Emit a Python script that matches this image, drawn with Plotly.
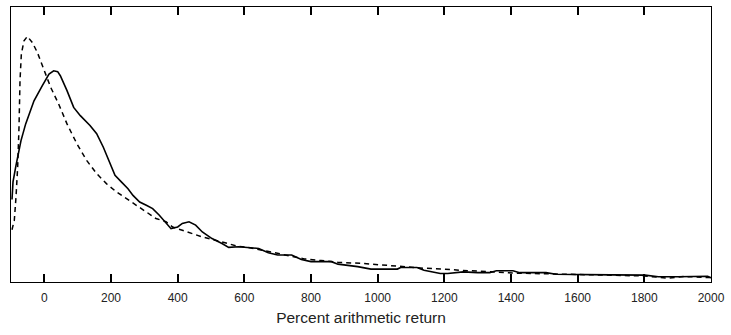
import plotly.graph_objects as go

# Solid curve (percent arithmetic return vs density, arbitrary units)
solid_x = [-97, -94, -85, -70, -56, -31, -6, 14, 28, 40, 48, 68, 88, 108, 137, 157, 177, 197, 212, 231,
           251, 266, 286, 306, 325, 345, 365, 380, 400, 414, 434, 454, 474, 503, 533, 553, 583, 613, 643,
           672, 700, 742, 771, 800, 861, 881, 940, 980, 1059, 1069, 1118, 1139, 1188, 1210, 1257, 1300,
           1336, 1356, 1406, 1426, 1505, 1535, 1604, 1700, 1802, 1842, 1900, 1960, 1990, 2000]
solid_y = [0.30, 0.364, 0.424, 0.514, 0.575, 0.659, 0.714, 0.756, 0.768, 0.765, 0.750, 0.696, 0.635, 0.605,
           0.569, 0.539, 0.490, 0.430, 0.388, 0.364, 0.339, 0.315, 0.291, 0.279, 0.267, 0.243, 0.213, 0.194,
           0.200, 0.213, 0.219, 0.207, 0.182, 0.158, 0.140, 0.126, 0.128, 0.126, 0.122, 0.106, 0.098, 0.098,
           0.082, 0.074, 0.074, 0.065, 0.056, 0.047, 0.047, 0.053, 0.053, 0.043, 0.031, 0.031, 0.037, 0.034,
           0.034, 0.041, 0.041, 0.034, 0.034, 0.028, 0.028, 0.026, 0.025, 0.019, 0.019, 0.021, 0.021, 0.015]

# Dashed curve
dashed_x = [-97, -90, -85, -80, -76, -73, -69, -61, -51, -36, -21, -1, 19, 43, 68, 98, 127, 157, 187, 217,
            246, 276, 306, 335, 365, 385, 414, 444, 474, 504, 540, 580, 620, 680, 740, 780, 830, 880, 960,
            1015, 1080, 1140, 1200, 1250, 1300, 1360, 1420, 1500, 1600, 1700, 1800, 1870, 1920, 2000]
dashed_y = [0.19, 0.225, 0.309, 0.418, 0.563, 0.732, 0.829, 0.877, 0.893, 0.871, 0.835, 0.774, 0.708, 0.647,
            0.575, 0.502, 0.442, 0.394, 0.357, 0.327, 0.303, 0.279, 0.255, 0.231, 0.219, 0.200, 0.188, 0.176,
            0.164, 0.155, 0.142, 0.130, 0.124, 0.110, 0.095, 0.084, 0.078, 0.072, 0.067, 0.061, 0.055, 0.050,
            0.047, 0.042, 0.040, 0.036, 0.032, 0.030, 0.027, 0.025, 0.022, 0.014, 0.020, 0.016]

tick_vals = [0, 200, 400, 600, 800, 1000, 1200, 1400, 1600, 1800, 2000]
x_title = "Percent arithmetic return"

FONT = "Liberation Sans Narrow, Arial Narrow, Liberation Sans, Arial, sans-serif"

fig = go.Figure()
fig.add_trace(go.Scatter(x=dashed_x, y=dashed_y, mode="lines",
                         line=dict(color="black", width=1.5, dash="5px,4px"), showlegend=False))
fig.add_trace(go.Scatter(x=solid_x, y=solid_y, mode="lines",
                         line=dict(color="black", width=1.6), showlegend=False))

fig.update_layout(
    width=731, height=335,
    margin=dict(l=11, r=17, t=6, b=53),
    paper_bgcolor="white", plot_bgcolor="white",
    font=dict(family=FONT, size=12, color="#222"),
    xaxis=dict(range=[-100, 2000], tickmode="array", tickvals=tick_vals,
               ticks="inside", ticklen=8, tickwidth=1.5, tickcolor="#000000",
               showline=True, linecolor="black", linewidth=1.2, mirror="allticks",
               showgrid=False, zeroline=False, layer="above traces", ticklabelstandoff=4,
               tickfont=dict(family=FONT, size=12, color="#222"),
               title=dict(text=x_title, standoff=8, font=dict(family=FONT, size=15.5, color="#222"))),
    yaxis=dict(range=[0, 1], showticklabels=False, showgrid=False, zeroline=False,
               showline=True, linecolor="black", linewidth=1.2, mirror=True),
)

fig.write_html("out.html")
